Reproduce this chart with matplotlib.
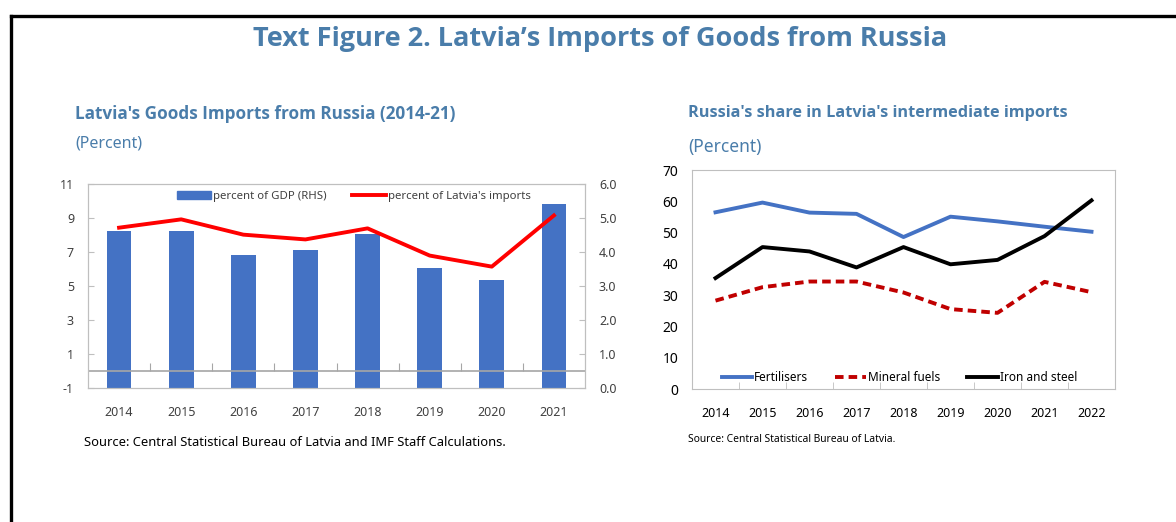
import numpy as np
import matplotlib
matplotlib.use('Agg')
import matplotlib.pyplot as plt
from matplotlib.lines import Line2D
from matplotlib.patches import Patch

plt.rcParams['font.family'] = ['Noto Sans', 'DejaVu Sans']
plt.rcParams['font.stretch'] = 'condensed'
plt.rcParams['axes.unicode_minus'] = False

# Data
######################################
years_left = ['2014', '2015', '2016', '2017', '2018', '2019', '2020', '2021']
gdp_share = [4.61, 4.62, 3.90, 4.06, 4.54, 3.53, 3.17, 5.40]        # RHS
imports_share = [8.43, 8.92, 8.02, 7.74, 8.39, 6.79, 6.14, 9.15]   # LHS

years_right = ['2014', '2015', '2016', '2017', '2018', '2019', '2020', '2021', '2022']
fertilisers = [56.5, 59.6, 56.4, 56.0, 48.6, 55.1, 53.6, 51.9, 50.3]
mineral_fuels = [28.3, 32.6, 34.4, 34.4, 30.9, 25.6, 24.4, 34.3, 31.0]
iron_steel = [35.5, 45.4, 44.0, 38.9, 45.4, 39.9, 41.3, 48.9, 60.3]
######################################

title_col = '#4A7DAA'
grid_col = '#BFBFBF'
txt_col = '#404040'
bold_font = ['Open Sans', 'DejaVu Sans']
W, H = 1176, 522

fig = plt.figure(figsize=(W / 100, H / 100), dpi=100)

# outer frame (top and left edges visible)
fig.add_artist(Line2D([10.5 / W, 10.5 / W], [0, 1 - 15.5 / H], color='black', lw=2.4,
                      transform=fig.transFigure, solid_capstyle='projecting'))
fig.add_artist(Line2D([10.5 / W, 1], [1 - 15.5 / H, 1 - 15.5 / H], color='black', lw=2.4,
                      transform=fig.transFigure, solid_capstyle='projecting'))

fig.text(600 / W, 1 - 39 / H, 'Text Figure 2. Latvia\u2019s Imports of Goods from Russia',
         ha='center', va='center', fontsize=19.5, fontweight='bold', color=title_col,
         family=bold_font, fontstretch='normal')

# Left chart
#######################################################
fig.text(75 / W, 1 - 114 / H, "Latvia's Goods Imports from Russia (2014-21)", ha='left', va='center',
         fontsize=12.3, fontweight='bold', color=title_col, family=bold_font, fontstretch='normal')
fig.text(75 / W, 1 - 144 / H, '(Percent)', ha='left', va='center', fontsize=11.5, color=title_col)

axL = fig.add_axes([88 / W, 1 - 388 / H, 497 / W, 204 / H])
axR = axL.twinx()
x = np.arange(len(years_left))

axR.bar(x, gdp_share, width=0.4, color='#4472C4', zorder=2)
axR.set_ylim(0, 6)
axR.set_yticks(np.arange(0, 6.1, 1))
axR.set_yticklabels(['%.1f' % v for v in np.arange(0, 6.1, 1)])

axL.set_zorder(axR.get_zorder() + 1)
axL.patch.set_visible(False)
axL.plot(x, imports_share, color='#FF0000', lw=2.8, zorder=3)
axL.axhline(0, color='#A6A6A6', lw=1.2, zorder=1)
axL.vlines(np.arange(len(years_left) - 1) + 0.5, 0, 0.45, color='#A6A6A6', lw=0.8)
axL.set_ylim(-1, 11)
axL.set_yticks(np.arange(-1, 12, 2))
axL.set_xlim(-0.5, len(years_left) - 0.5)
axL.set_xticks(x)
axL.set_xticklabels(years_left)

for a in (axL, axR):
    for s in a.spines.values():
        s.set_color(grid_col)
    a.tick_params(axis='y', direction='in', length=4, color=grid_col, labelsize=9, labelcolor=txt_col, pad=10)
axL.tick_params(axis='x', length=0, labelsize=9, labelcolor=txt_col, pad=13)

handlesL = [Patch(color='#4472C4'), Line2D([], [], color='#FF0000', lw=2.8)]
axL.legend(handlesL, ['percent of GDP (RHS)', "percent of Latvia's imports"], loc='upper center',
           bbox_to_anchor=(0.535, 1.015), ncol=2, frameon=False, fontsize=8.2, handlelength=3.0,
           handletextpad=0.2, columnspacing=2.2, labelcolor=txt_col)

fig.text(84 / W, 1 - 443 / H, 'Source: Central Statistical Bureau of Latvia and IMF Staff Calculations.',
         ha='left', va='center', fontsize=9.3, color='black')

# Right chart
#######################################################
fig.text(688 / W, 1 - 113 / H, "Russia's share in Latvia's intermediate imports", ha='left', va='center',
         fontsize=11.7, fontweight='bold', color=title_col, family=bold_font, fontstretch='normal')
fig.text(688 / W, 1 - 147 / H, '(Percent)', ha='left', va='center', fontsize=12.5, color=title_col)

ax2 = fig.add_axes([692 / W, 1 - 389.3 / H, 423 / W, 219.3 / H])
x2 = np.arange(len(years_right))
ax2.plot(x2, fertilisers, color='#4472C4', lw=2.8, label='Fertilisers')
ax2.plot(x2, mineral_fuels, color='#C00000', lw=2.8, ls=(0, (2.2, 1.3)), label='Mineral fuels')
ax2.plot(x2, iron_steel, color='black', lw=2.8, label='Iron and steel')
ax2.set_ylim(0, 70)
ax2.set_yticks(np.arange(0, 71, 10))
ax2.set_xlim(-0.5, len(years_right) - 0.5)
ax2.set_xticks(x2)
ax2.set_xticklabels(years_right)
ax2.set_xticks(np.arange(len(years_right) - 1) + 0.5, minor=True)
for s in ax2.spines.values():
    s.set_color(grid_col)
ax2.tick_params(axis='y', length=0, labelsize=10, labelcolor='black', pad=10)
ax2.tick_params(axis='x', which='major', length=0, labelsize=9, labelcolor='black', pad=13)
ax2.tick_params(axis='x', which='minor', direction='in', length=5, color=grid_col)
ax2.legend(loc='lower center', bbox_to_anchor=(0.49, -0.025), ncol=3, frameon=False, fontsize=8.5,
           handlelength=2.6, handletextpad=0.15, columnspacing=2.3)

fig.text(688 / W, 1 - 440 / H, 'Source: Central Statistical Bureau of Latvia.', ha='left', va='center',
         fontsize=7.4, color='black')

fig.savefig('out.png', dpi=100)
